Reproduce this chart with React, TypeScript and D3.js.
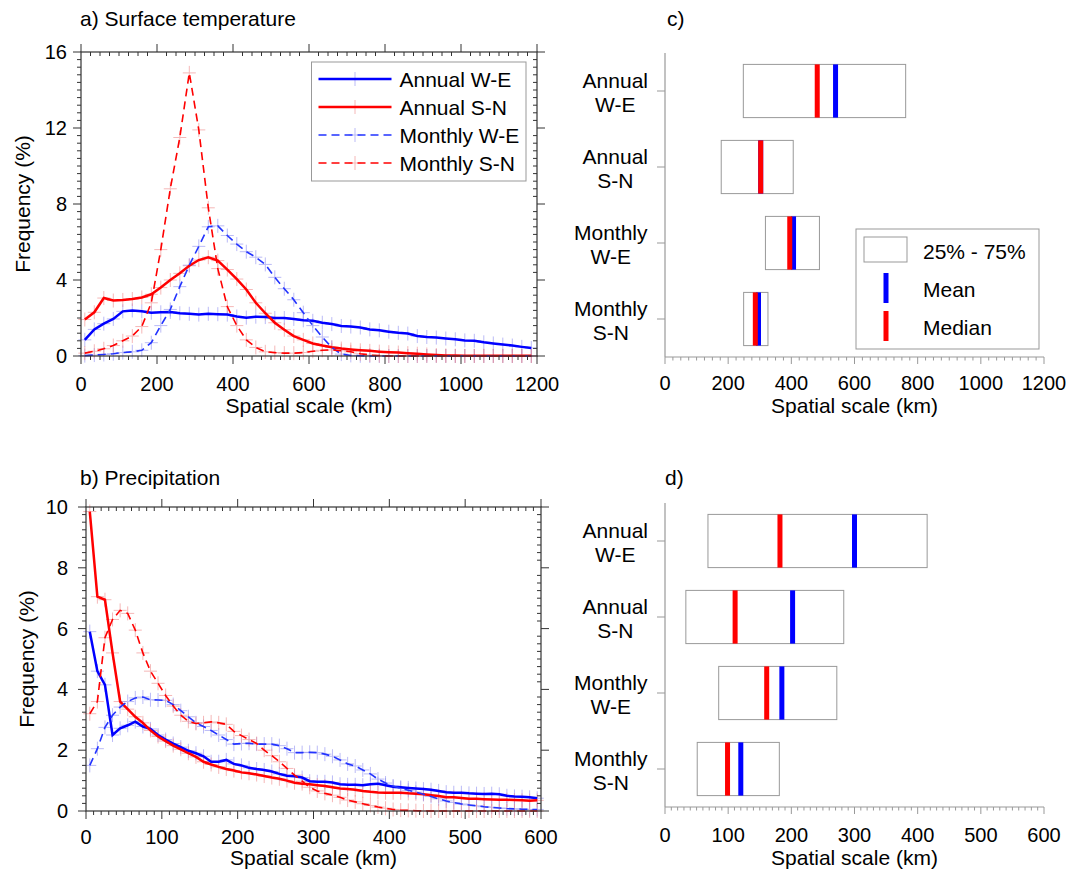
import { useEffect, useRef } from "react";
import * as d3 from "d3";

const FONT = "'Liberation Sans', Arial, Helvetica, sans-serif";
const BLUE = "#0000ff";
const RED = "#ff0000";
const AXIS = "#333";
const GREY = "#999";
const TICK_FS = 20;
const TEXT_FS = 21;

const seriesNames = ["Annual W-E", "Annual S-N", "Monthly W-E", "Monthly S-N"];

// a) surface temperature, frequency (%) per spatial scale (km)
const tempScale = [
  10, 35, 60, 85, 110, 135, 160, 185, 210, 235, 260, 285, 310, 335, 360, 385,
  410, 435, 460, 485, 510, 535, 560, 585, 610, 635, 660, 685, 710, 735, 760, 785,
  810, 835, 860, 885, 910, 935, 960, 985, 1010, 1035, 1060, 1085, 1110, 1135, 1160, 1185,
];
const tempAnnualWE = [
  0.85, 1.4, 1.7, 1.95, 2.35, 2.4, 2.35, 2.28, 2.3, 2.32, 2.25, 2.22, 2.18, 2.22, 2.2, 2.18,
  2.08, 2.02, 2.07, 2.05, 2.0, 2.0, 1.95, 1.88, 1.85, 1.75, 1.68, 1.58, 1.55, 1.5, 1.4, 1.35,
  1.28, 1.22, 1.18, 1.05, 1.0, 0.97, 0.92, 0.88, 0.82, 0.8, 0.72, 0.66, 0.6, 0.55, 0.48, 0.42,
];
const tempAnnualSN = [
  1.92, 2.3, 3.05, 2.92, 2.95, 3.0, 3.08, 3.25, 3.6, 4.0, 4.35, 4.75, 5.05, 5.2, 5.02, 4.55,
  4.05, 3.5, 2.8, 2.25, 1.75, 1.38, 1.05, 0.85, 0.66, 0.55, 0.46, 0.39, 0.34, 0.3, 0.27, 0.23,
  0.2, 0.18, 0.15, 0.12, 0.08, 0.05, 0.03, 0.02, 0.01, 0.01, 0.01, 0.01, 0.01, 0.01, 0.01, 0.01,
];
const tempMonthlyWE = [
  0.02, 0.05, 0.08, 0.12, 0.18, 0.22, 0.3, 0.7, 1.6, 2.45, 3.65, 4.78, 5.77, 6.8, 6.85, 6.34,
  5.89, 5.49, 5.2, 4.82, 4.14, 3.54, 2.96, 2.28, 1.6, 1.0, 0.45, 0.1, 0.03, 0.01, 0, 0,
  0, 0, 0, 0, 0, 0, 0, 0, 0, 0, 0, 0, 0, 0, 0, 0,
];
const tempMonthlySN = [
  0.15, 0.25, 0.38, 0.55, 0.8, 1.05, 1.55, 2.8, 5.6, 8.8, 11.5, 14.9, 11.9, 7.8, 4.6, 2.6,
  1.6, 0.85, 0.45, 0.22, 0.18, 0.15, 0.15, 0.18, 0.25, 0.3, 0.32, 0.28, 0.22, 0.12, 0.05, 0.02,
  0, 0, 0, 0, 0, 0, 0, 0, 0, 0, 0, 0, 0, 0, 0, 0,
];

// b) precipitation
const precipScale = [
  5, 15, 25, 35, 45, 55, 65, 75, 85, 95, 105, 115, 125, 135, 145, 155, 165, 175, 185, 195,
  205, 215, 225, 235, 245, 255, 265, 275, 285, 295, 305, 315, 325, 335, 345, 355, 365, 375, 385, 395,
  405, 415, 425, 435, 445, 455, 465, 475, 485, 495, 505, 515, 525, 535, 545, 555, 565, 575, 585, 595,
];
const precipAnnualWE = [
  5.9, 4.6, 4.15, 2.5, 2.72, 2.82, 2.94, 2.78, 2.7, 2.5, 2.35, 2.22, 2.1, 1.98, 1.9, 1.8, 1.62, 1.62, 1.68, 1.55,
  1.5, 1.42, 1.38, 1.35, 1.3, 1.22, 1.16, 1.14, 1.1, 0.98, 0.96, 0.96, 0.94, 0.88, 0.86, 0.86, 0.85, 0.88, 0.9, 0.85,
  0.8, 0.78, 0.76, 0.74, 0.72, 0.7, 0.66, 0.62, 0.6, 0.6, 0.58, 0.57, 0.56, 0.57, 0.55, 0.5, 0.48, 0.47, 0.45, 0.42,
];
const precipAnnualSN = [
  9.85, 7.05, 6.95, 5.2, 3.6, 3.35, 3.1, 2.9, 2.65, 2.45, 2.3, 2.15, 2.03, 1.9, 1.78, 1.62, 1.53, 1.45, 1.38, 1.33,
  1.27, 1.24, 1.2, 1.15, 1.1, 1.06, 1.0, 0.93, 0.9, 0.88, 0.85, 0.82, 0.78, 0.74, 0.72, 0.7, 0.66, 0.63, 0.61, 0.6,
  0.6, 0.6, 0.58, 0.57, 0.55, 0.52, 0.49, 0.45, 0.45, 0.43, 0.4, 0.4, 0.39, 0.38, 0.37, 0.37, 0.36, 0.35, 0.34, 0.35,
];
const precipMonthlyWE = [
  1.5, 2.05, 2.75, 3.15, 3.42, 3.6, 3.72, 3.75, 3.66, 3.65, 3.64, 3.5, 3.3, 3.1, 2.9, 2.78, 2.65, 2.5, 2.35, 2.2,
  2.22, 2.23, 2.2, 2.2, 2.2, 2.15, 2.05, 1.92, 1.92, 1.93, 1.92, 1.87, 1.8, 1.68, 1.55, 1.48, 1.35, 1.22, 1.05, 0.92,
  0.82, 0.75, 0.68, 0.62, 0.55, 0.48, 0.4, 0.33, 0.28, 0.23, 0.2, 0.17, 0.14, 0.12, 0.1, 0.08, 0.07, 0.06, 0.05, 0.05,
];
const precipMonthlySN = [
  3.2, 3.6, 5.7, 6.3, 6.6, 6.5, 5.95, 5.2, 4.6, 4.2, 3.8, 3.45, 3.15, 2.95, 2.88, 2.9, 2.93, 2.9, 2.85, 2.62,
  2.48, 2.35, 2.22, 2.0, 1.82, 1.62, 1.4, 1.18, 0.98, 0.78, 0.66, 0.58, 0.52, 0.45, 0.36, 0.3, 0.24, 0.18, 0.13, 0.09,
  0.05, 0.03, 0.02, 0.01, 0, 0, 0, 0, 0, 0, 0, 0, 0, 0, 0, 0, 0, 0, 0, 0,
];

// c) / d) 25%-75% range, mean and median (km)
const boxLabels = [["Annual", "W-E"], ["Annual", "S-N"], ["Monthly", "W-E"], ["Monthly", "S-N"]];
const tempQ25 = [248, 178, 318, 249];
const tempQ75 = [762, 406, 489, 326];
const tempMean = [540, 303, 407, 296];
const tempMedian = [482, 303, 395, 286];
const precipQ25 = [68, 33, 85, 51];
const precipQ75 = [415, 283, 272, 181];
const precipMean = [300, 202, 185, 120];
const precipMedian = [182, 111, 161, 99];

const styles = [
  { color: BLUE, cross: "#8f8ff2", dashed: false },
  { color: RED, cross: "#f08a8a", dashed: false },
  { color: "#2233ff", cross: "#8f8ff2", dashed: true },
  { color: RED, cross: "#f08a8a", dashed: true },
];

function cross(g, cx, cy, color) {
  const c = g.append("g").attr("stroke", color).attr("stroke-width", 1).attr("opacity", 0.6);
  c.append("line").attr("x1", cx - 6.5).attr("x2", cx + 6.5).attr("y1", cy).attr("y2", cy);
  c.append("line").attr("x1", cx).attr("x2", cx).attr("y1", cy - 7).attr("y2", cy + 7);
}

function linePanel(svg, o) {
  const x = d3.scaleLinear().domain([0, o.xMax]).range([o.left, o.right]);
  const y = d3.scaleLinear().domain([0, o.yMax]).range([o.bottom, o.top]);
  const g = svg.append("g");

  o.series.forEach((vals, k) => {
    vals.forEach((v, i) => cross(g, x(o.xs[i]), y(v), styles[k].cross));
  });
  const line = d3.line<number>().x((_, i) => x(o.xs[i])).y((d) => y(d));
  o.series.forEach((vals, k) => {
    g.append("path")
      .attr("d", line(vals))
      .attr("fill", "none")
      .attr("stroke", styles[k].color)
      .attr("stroke-width", styles[k].dashed ? 1.6 : 2.5)
      .attr("stroke-dasharray", styles[k].dashed ? "8,5" : null);
  });

  // frame
  g.append("rect")
    .attr("x", o.left).attr("y", o.top)
    .attr("width", o.right - o.left).attr("height", o.bottom - o.top)
    .attr("fill", "none").attr("stroke", AXIS).attr("stroke-width", 1.2);

  const tk = g.append("g").attr("stroke", AXIS).attr("stroke-width", 1);
  const nx = Math.round(o.xMax / o.xMinor);
  const perX = Math.round(o.xMajor / o.xMinor);
  for (let i = 0; i <= nx; i++) {
    const px = x(i * o.xMinor);
    const major = i % perX === 0;
    tk.append("line").attr("x1", px).attr("x2", px).attr("y1", o.bottom).attr("y2", o.bottom + (major ? 8 : 4));
    if (major) tk.append("line").attr("x1", px).attr("x2", px).attr("y1", o.top - 8).attr("y2", o.top);
    else tk.append("line").attr("x1", px).attr("x2", px).attr("y1", o.top).attr("y2", o.top + 4);
    if (major) {
      g.append("text").attr("x", px).attr("y", o.bottom + o.xLabelDy)
        .attr("text-anchor", "middle").attr("font-size", TICK_FS).text(i * o.xMinor);
    }
  }
  const ny = Math.round(o.yMax / o.yMinor);
  const perY = Math.round(o.yMajor / o.yMinor);
  for (let i = 0; i <= ny; i++) {
    const py = y(i * o.yMinor);
    const major = i % perY === 0;
    tk.append("line").attr("x1", o.left - (major ? 8 : 4)).attr("x2", o.left).attr("y1", py).attr("y2", py);
    if (major) tk.append("line").attr("x1", o.right).attr("x2", o.right + 8).attr("y1", py).attr("y2", py);
    else tk.append("line").attr("x1", o.right - 4).attr("x2", o.right).attr("y1", py).attr("y2", py);
    if (major) {
      g.append("text").attr("x", o.left - o.yLabelGap).attr("y", py).attr("dy", "0.35em")
        .attr("text-anchor", "end").attr("font-size", TICK_FS).text(Math.round(i * o.yMinor));
    }
  }

  g.append("text").attr("x", o.titleX).attr("y", o.titleY).attr("font-size", TEXT_FS).text(o.title);
  g.append("text").attr("x", (o.left + o.right) / 2).attr("y", o.axisTitleY)
    .attr("text-anchor", "middle").attr("font-size", TEXT_FS).text("Spatial scale (km)");
  g.append("text")
    .attr("transform", `translate(${o.yTitleX},${(o.top + o.bottom) / 2}) rotate(-90)`)
    .attr("text-anchor", "middle").attr("font-size", TEXT_FS).text("Frequency (%)");

  if (o.legend) {
    const L = o.legend;
    g.append("rect").attr("x", L.x).attr("y", L.y).attr("width", L.w).attr("height", L.h)
      .attr("fill", "white").attr("stroke", GREY).attr("stroke-width", 1);
    seriesNames.forEach((name, k) => {
      const ry = L.y + 17 + k * 28;
      cross(g, L.x + 43.5, ry, styles[k].cross);
      g.append("line").attr("x1", L.x + 7).attr("x2", L.x + 80).attr("y1", ry).attr("y2", ry)
        .attr("stroke", styles[k].color).attr("stroke-width", styles[k].dashed ? 1.6 : 2.5)
        .attr("stroke-dasharray", styles[k].dashed ? "8,5" : null);
      g.append("text").attr("x", L.x + 88).attr("y", ry).attr("dy", "0.36em")
        .attr("font-size", TEXT_FS).text(name);
    });
  }
}

function boxPanel(svg, o) {
  const x = d3.scaleLinear().domain([0, o.xMax]).range([o.left, o.right]);
  const y = d3.scaleBand<number>().domain(d3.range(boxLabels.length))
    .range([o.top, o.bottom]).paddingInner(0.3).paddingOuter(0.15);
  const g = svg.append("g");
  const bw = y.bandwidth();

  boxLabels.forEach((lines, i) => {
    const y0 = y(i);
    g.append("rect").attr("x", x(o.q25[i])).attr("y", y0)
      .attr("width", x(o.q75[i]) - x(o.q25[i])).attr("height", bw)
      .attr("fill", "none").attr("stroke", GREY).attr("stroke-width", 1);
    g.append("rect").attr("x", x(o.mean[i]) - 2.5).attr("y", y0).attr("width", 5).attr("height", bw).attr("fill", BLUE);
    g.append("rect").attr("x", x(o.median[i]) - 2.5).attr("y", y0).attr("width", 5).attr("height", bw).attr("fill", RED);

    const cy = y0 + bw / 2;
    g.append("line").attr("x1", o.left - 8).attr("x2", o.left).attr("y1", cy).attr("y2", cy)
      .attr("stroke", GREY).attr("stroke-width", 1);
    const lab = g.append("g");
    lab.append("text").attr("x", 0).attr("y", cy - 2.7).attr("text-anchor", "middle").attr("font-size", TEXT_FS).text(lines[0]);
    lab.append("text").attr("x", 0).attr("y", cy + 20.8).attr("text-anchor", "middle").attr("font-size", TEXT_FS).text(lines[1]);
    const bb = (lab.node() as SVGGElement).getBBox();
    lab.attr("transform", `translate(${648 - (bb.x + bb.width)},0)`);
  });

  // axes
  g.append("line").attr("x1", o.left).attr("x2", o.left).attr("y1", o.top).attr("y2", o.bottom)
    .attr("stroke", GREY).attr("stroke-width", 1.2);
  g.append("line").attr("x1", o.left).attr("x2", o.right).attr("y1", o.bottom).attr("y2", o.bottom)
    .attr("stroke", GREY).attr("stroke-width", 1.2);
  const nx = Math.round(o.xMax / o.xMinor);
  const perX = Math.round(o.xMajor / o.xMinor);
  for (let i = 0; i <= nx; i++) {
    const px = x(i * o.xMinor);
    const major = i % perX === 0;
    g.append("line").attr("x1", px).attr("x2", px).attr("y1", o.bottom).attr("y2", o.bottom + (major ? 7 : 3.5))
      .attr("stroke", GREY).attr("stroke-width", 1);
    if (major) {
      g.append("text").attr("x", px).attr("y", o.bottom + o.xLabelDy)
        .attr("text-anchor", "middle").attr("font-size", TICK_FS).text(i * o.xMinor);
    }
  }
  g.append("text").attr("x", (o.left + o.right) / 2).attr("y", o.axisTitleY)
    .attr("text-anchor", "middle").attr("font-size", TEXT_FS).text("Spatial scale (km)");
  g.append("text").attr("x", o.titleX).attr("y", o.titleY).attr("font-size", TEXT_FS).text(o.title);

  if (o.legend) {
    const L = o.legend;
    g.append("rect").attr("x", L.x).attr("y", L.y).attr("width", L.w).attr("height", L.h)
      .attr("fill", "white").attr("stroke", GREY).attr("stroke-width", 1);
    g.append("rect").attr("x", L.x + 8).attr("y", L.y + 8).attr("width", 43).attr("height", 25)
      .attr("fill", "none").attr("stroke", GREY).attr("stroke-width", 1);
    g.append("text").attr("x", L.x + 67).attr("y", L.y + 30).attr("font-size", TEXT_FS).text("25% - 75%");
    g.append("rect").attr("x", L.x + 27.5).attr("y", L.y + 44).attr("width", 5).attr("height", 30).attr("fill", BLUE);
    g.append("text").attr("x", L.x + 67).attr("y", L.y + 68).attr("font-size", TEXT_FS).text("Mean");
    g.append("rect").attr("x", L.x + 27.5).attr("y", L.y + 82).attr("width", 5).attr("height", 30).attr("fill", RED);
    g.append("text").attr("x", L.x + 67).attr("y", L.y + 106).attr("font-size", TEXT_FS).text("Median");
  }
}

export default function App() {
  const ref = useRef<SVGSVGElement>(null);

  useEffect(() => {
    const svg = d3.select(ref.current);
    svg.selectAll("*").remove();

    linePanel(svg, {
      left: 81, right: 537, top: 52, bottom: 356,
      xMax: 1200, xMajor: 200, xMinor: 25,
      yMax: 16, yMajor: 4, yMinor: 0.4,
      xs: tempScale,
      series: [tempAnnualWE, tempAnnualSN, tempMonthlyWE, tempMonthlySN],
      xLabelDy: 35, yLabelGap: 14, yTitleX: 30, axisTitleY: 413,
      title: "a) Surface temperature", titleX: 80, titleY: 26,
      legend: { x: 311.5, y: 62, w: 214.5, h: 119 },
    });
    linePanel(svg, {
      left: 86, right: 541, top: 507, bottom: 811,
      xMax: 600, xMajor: 100, xMinor: 10,
      yMax: 10, yMajor: 2, yMinor: 0.25,
      xs: precipScale,
      series: [precipAnnualWE, precipAnnualSN, precipMonthlyWE, precipMonthlySN],
      xLabelDy: 33, yLabelGap: 18, yTitleX: 34, axisTitleY: 865,
      title: "b) Precipitation", titleX: 80, titleY: 485,
    });
    boxPanel(svg, {
      left: 665, right: 1044, top: 53, bottom: 357,
      xMax: 1200, xMajor: 200, xMinor: 25,
      q25: tempQ25, q75: tempQ75, mean: tempMean, median: tempMedian,
      xLabelDy: 33, axisTitleY: 413,
      title: "c)", titleX: 667, titleY: 26,
      legend: { x: 856, y: 229, w: 183, h: 120 },
    });
    boxPanel(svg, {
      left: 665, right: 1044, top: 503, bottom: 807,
      xMax: 600, xMajor: 100, xMinor: 10,
      q25: precipQ25, q75: precipQ75, mean: precipMean, median: precipMedian,
      xLabelDy: 35, axisTitleY: 865,
      title: "d)", titleX: 665, titleY: 485,
    });
  }, []);

  return (
    <svg
      ref={ref}
      width={1083}
      height={871}
      style={{ position: "absolute", left: 0, top: 0, background: "white", fontFamily: FONT }}
    />
  );
}
